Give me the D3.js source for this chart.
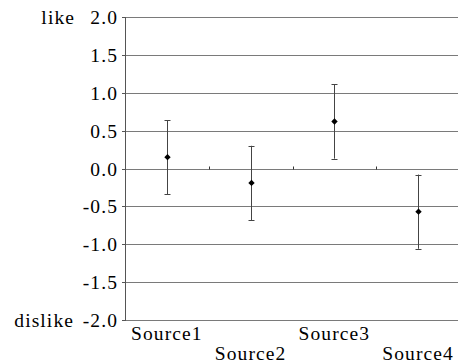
<!DOCTYPE html>
<html>
<head>
<meta charset="utf-8">
<script src="https://cdn.jsdelivr.net/npm/d3@7"></script>
<style>
  body { margin: 0; background: #fff; }
  svg { display: block; }
</style>
</head>
<body>
<svg width="458" height="363"></svg>
<script>
const sources = ["Source1", "Source2", "Source3", "Source4"];
const means = [0.15, -0.19, 0.62, -0.57];
const errors = [0.49, 0.49, 0.49, 0.49];
const yTicks = [2.0, 1.5, 1.0, 0.5, 0.0, -0.5, -1.0, -1.5, -2.0];
const endLabels = ["like", "dislike"];

const width = 458;
const height = 363;
const margin = { top: 17, right: -2, bottom: 43, left: 125 };
const svg = d3.select("svg");

const xScale = d3
  .scaleBand()
  .domain(sources)
  .range([margin.left, width - margin.right]);

const yScale = d3
  .scaleLinear()
  .domain([-2, 2])
  .range([height - margin.bottom, margin.top]);

// gridlines
svg
  .append("g")
  .selectAll("line")
  .data(yTicks)
  .enter()
  .append("line")
  .attr("x1", margin.left)
  .attr("x2", width)
  .attr("y1", d => Math.round(yScale(d)) + 0.5)
  .attr("y2", d => Math.round(yScale(d)) + 0.5)
  .attr("stroke", "#7a7a7a");

// y axis line
svg
  .append("line")
  .attr("x1", margin.left + 0.5)
  .attr("x2", margin.left + 0.5)
  .attr("y1", yScale(2))
  .attr("y2", yScale(-2) + 1)
  .attr("stroke", "#555");

// small left ticks
svg
  .append("g")
  .selectAll("line")
  .data(yTicks)
  .enter()
  .append("line")
  .attr("x1", margin.left - 3)
  .attr("x2", margin.left)
  .attr("y1", d => Math.round(yScale(d)) + 0.5)
  .attr("y2", d => Math.round(yScale(d)) + 0.5)
  .attr("stroke", "#555");

// category ticks on the zero line
const y0 = Math.round(yScale(0)) + 0.5;
svg
  .append("g")
  .selectAll("line")
  .data(sources.slice(1))
  .enter()
  .append("line")
  .attr("x1", d => Math.round(xScale(d)) + 0.5)
  .attr("x2", d => Math.round(xScale(d)) + 0.5)
  .attr("y1", y0 - 3)
  .attr("y2", y0)
  .attr("stroke", "#333");

// text helper (letter-spacing widens the glyph run like the original)
const addText = (x, y, str, anchor) => {
  svg
    .append("text")
    .attr("x", x)
    .attr("y", y)
    .attr("text-anchor", anchor)
    .style("font-family", "Liberation Serif")
    .style("font-size", "19.5px")
    .style("letter-spacing", "1.1px")
    .style("fill", "#000")
    .text(str);
};

// y tick labels
yTicks.forEach(t => addText(118, yScale(t) + 7, d3.format(".1f")(t).replace("−", "-"), "end"));

addText(75, yScale(2) + 7, endLabels[0], "end");
addText(74, yScale(-2) + 7, endLabels[1], "end");

// x labels, staggered
sources.forEach((s, i) => {
  const cx = xScale(s) + xScale.bandwidth() / 2;
  addText(cx, i % 2 === 0 ? 340 : 360, s, "middle");
});

// error bars
const data = sources.map((s, i) => ({ s, m: means[i], e: errors[i] }));
const bars = svg
  .append("g")
  .selectAll("g")
  .data(data)
  .enter()
  .append("g")
  .attr("transform", d => "translate(" + [Math.round(xScale(d.s) + xScale.bandwidth() / 2) + 0.5, 0] + ")");

bars
  .append("line")
  .attr("y1", d => yScale(d.m + d.e))
  .attr("y2", d => yScale(d.m - d.e))
  .attr("stroke", "#444");

bars
  .append("line")
  .attr("x1", -3)
  .attr("x2", 3)
  .attr("y1", d => Math.round(yScale(d.m + d.e)) + 0.5)
  .attr("y2", d => Math.round(yScale(d.m + d.e)) + 0.5)
  .attr("stroke", "#444");

bars
  .append("line")
  .attr("x1", -3)
  .attr("x2", 3)
  .attr("y1", d => Math.round(yScale(d.m - d.e)) + 0.5)
  .attr("y2", d => Math.round(yScale(d.m - d.e)) + 0.5)
  .attr("stroke", "#444");

bars
  .append("path")
  .attr("d", d3.symbol().type(d3.symbolDiamond2).size(26))
  .attr("transform", d => "translate(" + [0, yScale(d.m)] + ")")
  .attr("fill", "#000");
</script>
</body>
</html>
